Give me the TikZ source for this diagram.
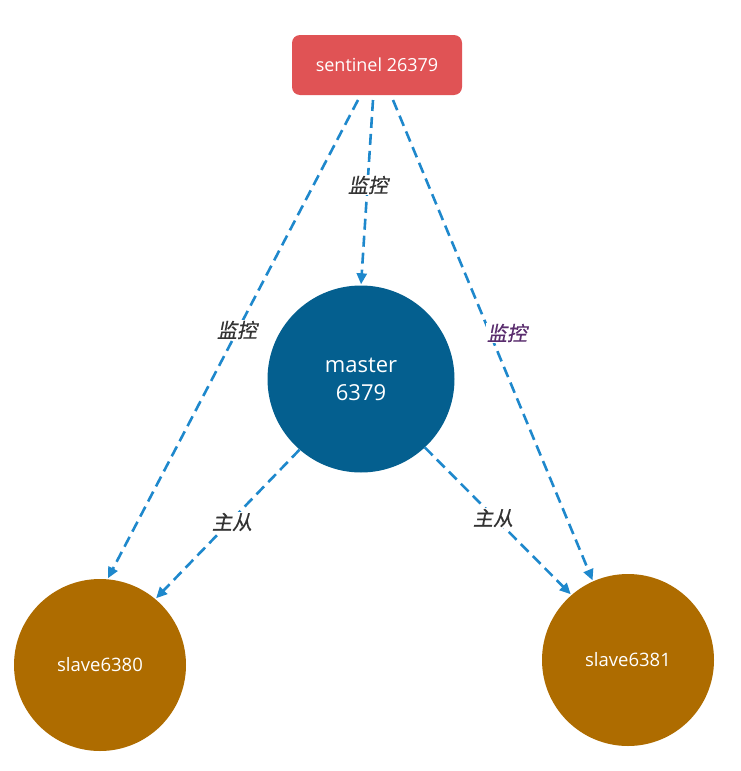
\documentclass[tikz,border=0pt]{standalone}
\usepackage{fontspec}
\setmainfont{Open Sans}
\newfontfamily\cjk[FakeSlant=0.2,FakeBold=0.6]{Noto Sans CJK SC}
\usetikzlibrary{arrows.meta}
\definecolor{sentred}{HTML}{E05355}
\definecolor{mblue}{HTML}{045F8F}
\definecolor{sbrown}{HTML}{AE6C00}
\definecolor{lblue}{HTML}{1E88CC}
\definecolor{lgray}{HTML}{333333}
\definecolor{lpurple}{HTML}{5A2D6E}
\tikzset{
  sentbox/.style={draw=none,fill=sentred,rounded corners=8pt,minimum width=170pt,minimum height=60pt,text=white,font=\fontsize{18}{21}\selectfont,inner sep=0pt},
  mnode/.style={circle,fill=mblue,minimum size=187pt,text=white,font=\fontsize{22}{28}\selectfont,align=center,inner sep=0pt},
  snode/.style={circle,fill=sbrown,minimum size=172pt,text=white,font=\fontsize{18.5}{21}\selectfont,inner sep=0pt},
  conn/.style={draw=lblue,line width=2.6pt,dash pattern=on 11pt off 6pt,-{Triangle[length=11pt,width=10pt]},shorten >=1pt},
  lbl/.style={fill=white,inner sep=1pt,font=\cjk\fontsize{20}{22}\selectfont,text=lgray},
}
\begin{document}
\begin{tikzpicture}[x=1pt,y=1pt]
\useasboundingbox (0,0) rectangle (741,-771);
\node[sentbox] (sent) at (377,-65) {sentinel 26379};
\node[mnode] (master) at (361,-379) {master\\6379};
\node[snode] (s0) at (100,-665) {slave6380};
\node[snode] (s1) at (628,-660) {slave6381};
\coordinate (a1) at (358,-100);
\coordinate (a2) at (373,-100);
\coordinate (a3) at (393,-100);
\draw[conn] (a1) -- (s0.85);
\draw[conn] (a2) -- (master.north);
\draw[conn] (a3) -- (s1.114);
\draw[conn] (master.229) -- (s0.50);
\draw[conn] (master.-47) -- (s1.131);
\node[lbl] (l1) at (237,-330) {监控};
\node[lbl] (l2) at (368,-185) {监控};
\node[lbl,text=lpurple] (l3) at (507,-333) {监控};
\node[lbl] (l4) at (232,-522) {主从};
\node[lbl] (l5) at (493,-518) {主从};
\end{tikzpicture}
\end{document}
